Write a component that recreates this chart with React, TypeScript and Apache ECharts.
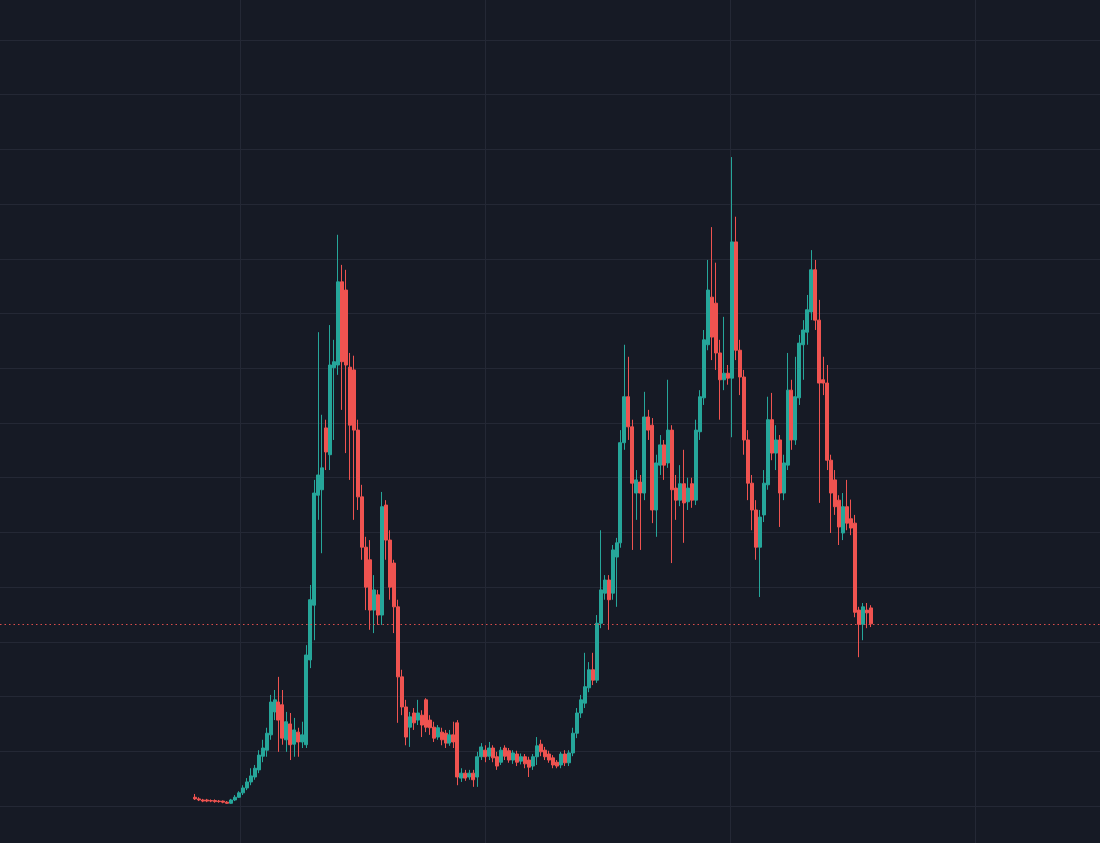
import React, { useEffect, useRef } from "react";
import * as echarts from "echarts";

// candle = [open, close, low, high]
type Candle = [number, number, number, number];

const BASE_RUN: Candle[] = [
  [1.6, 1.3, 1.1, 2.2], [1.3, 1.1, 0.9, 1.6], [1.1, 0.9, 0.7, 1.3], [1.1, 0.9, 0.7, 1.3],
  [1.0, 0.9, 0.7, 1.2], [1.0, 0.8, 0.6, 1.2], [0.9, 0.8, 0.6, 1.1], [0.9, 0.7, 0.5, 1.0],
  [0.7, 0.5, 0.4, 0.9], [0.5, 1.1, 0.4, 1.3], [1.1, 1.6, 0.9, 2.0], [1.6, 2.4, 1.5, 2.7],
  [2.4, 3.3, 2.0, 3.8], [3.3, 4.4, 2.9, 5.1], [4.4, 5.5, 3.8, 6.9], [5.3, 6.9, 4.8, 7.5],
  [6.6, 9.3, 6.0, 10.2], [9.1, 10.6, 8.0, 12.1], [10.2, 13.3, 9.0, 14.3], [13.0, 19.0, 12.1, 20.3],
  [17.2, 19.4, 15.7, 21.2], [19.0, 15.7, 9.9, 23.6], [18.5, 12.4, 11.2, 21.2], [12.1, 15.4, 9.9, 17.2],
  [15.0, 11.2, 8.4, 17.0], [11.3, 13.9, 9.0, 16.1], [13.5, 11.7, 9.0, 14.3], [11.7, 13.0, 10.6, 15.4],
];

const FIRST_RALLY: Candle[] = [
  [11.2, 27.6, 10.6, 29.4], [26.7, 37.7, 25.2, 40.4], [36.7, 57.2, 30.3, 59.6], [56.8, 60.5, 52.3, 86.6],
  [57.8, 61.8, 46.2, 71.5], [69.1, 64.7, 61.4, 70.6], [64.2, 80.6, 61.4, 87.9], [80.1, 81.2, 66.9, 85.2],
  [80.6, 95.8, 78.8, 104.4],
];

const FIRST_FALL: Candle[] = [
  [95.8, 81.2, 72.4, 98.9], [94.3, 80.6, 64.5, 98.0], [80.2, 69.6, 59.6, 82.8], [79.7, 68.7, 52.3, 82.3],
  [68.7, 56.5, 54.1, 70.6], [56.5, 47.3, 45.0, 58.7], [47.3, 40.0, 35.8, 49.2], [45.0, 35.8, 32.2, 48.6],
  [35.8, 39.5, 31.6, 42.2], [38.6, 34.9, 33.1, 39.5], [34.9, 54.7, 33.1, 57.4], [55.0, 48.6, 45.0, 55.9],
  [48.6, 40.0, 37.7, 50.4], [44.4, 36.4, 31.6, 45.0], [36.4, 23.6, 15.2, 37.7], [23.6, 18.1, 16.6, 24.9],
  [18.1, 12.6, 11.1, 19.4], [14.4, 16.3, 10.8, 17.2], [17.0, 15.2, 13.9, 17.9], [15.7, 17.0, 14.8, 19.4],
  [16.6, 14.8, 12.6, 17.5], [19.4, 14.4, 13.5, 19.7], [15.7, 14.3, 13.0, 16.6], [14.4, 12.4, 11.7, 15.4],
  [12.6, 14.3, 12.1, 14.8], [13.5, 12.1, 11.1, 14.3], [13.3, 11.5, 10.6, 13.9], [11.5, 13.0, 11.0, 13.9],
  [13.0, 11.7, 10.6, 15.4], [15.2, 5.3, 3.8, 15.7],
];

const ACCUMULATION: Candle[] = [
  [5.1, 6.0, 4.4, 6.9], [6.0, 5.1, 4.6, 6.6], [5.3, 6.0, 4.8, 6.6], [6.0, 4.8, 3.5, 6.6],
  [5.3, 9.0, 3.5, 9.9], [9.0, 10.8, 8.4, 11.5], [10.2, 9.0, 8.0, 11.1], [9.1, 10.6, 8.4, 11.7],
  [10.6, 8.8, 8.0, 11.1], [9.0, 7.3, 6.6, 9.9], [8.0, 10.2, 7.5, 10.8], [10.6, 9.1, 8.4, 11.1],
  [10.1, 8.4, 7.9, 10.6], [8.4, 9.7, 7.7, 10.2], [9.5, 8.0, 7.3, 10.1], [8.2, 9.0, 7.6, 9.6],
  [9.0, 7.7, 6.9, 9.5], [8.4, 7.1, 5.3, 9.0], [7.3, 9.0, 6.6, 9.5], [9.0, 11.0, 7.5, 12.6],
  [11.3, 9.9, 9.1, 12.1], [10.2, 9.0, 8.4, 10.8], [9.5, 8.4, 7.9, 10.1], [8.8, 7.5, 6.9, 9.3],
  [8.0, 7.3, 6.9, 8.4], [7.5, 9.5, 6.9, 9.9], [9.5, 7.9, 7.3, 10.2], [7.9, 9.7, 7.3, 10.2],
];

const SECOND_RALLY: Candle[] = [
  [9.7, 13.3, 9.1, 14.3], [13.3, 17.0, 12.4, 17.9], [17.0, 19.4, 16.1, 20.3], [18.8, 21.8, 17.9, 28.0],
  [21.6, 24.9, 20.8, 26.3], [24.9, 23.0, 22.1, 28.0], [23.0, 33.4, 22.5, 34.9], [33.4, 39.5, 32.5, 50.4],
  [38.9, 41.3, 37.7, 42.2], [41.3, 37.7, 32.2, 42.2], [38.9, 46.8, 37.7, 47.7], [45.5, 48.1, 36.4, 49.0],
  [48.1, 66.4, 47.2, 68.7], [66.4, 74.8, 65.1, 84.3],
];

const TOP_RANGE: Candle[] = [
  [74.8, 69.3, 66.9, 82.1], [69.3, 59.0, 46.8, 70.6], [57.2, 59.6, 52.3, 61.4], [59.2, 57.2, 46.8, 60.5],
  [57.2, 71.1, 55.9, 75.7], [71.1, 68.7, 66.9, 72.4], [69.6, 54.1, 51.7, 70.9], [54.1, 62.7, 49.2, 64.2],
  [62.3, 66.0, 60.5, 67.8], [66.0, 62.3, 59.6, 66.9], [62.7, 68.7, 61.8, 77.9], [68.7, 57.8, 44.4, 69.6],
  [58.1, 55.9, 52.3, 60.5], [55.9, 58.9, 54.8, 62.3], [58.9, 55.4, 48.1, 65.1], [55.6, 58.1, 54.1, 60.0],
  [58.9, 55.9, 54.5, 60.0], [55.9, 68.7, 55.0, 70.6], [68.4, 74.8, 66.9, 76.0], [74.6, 85.2, 73.3, 87.0],
  [84.3, 94.3, 83.3, 99.8], [93.0, 85.7, 81.5, 105.8], [91.9, 82.8, 79.7, 99.3], [82.8, 77.9, 70.6, 85.2],
  [77.9, 79.1, 76.0, 89.4], [79.1, 78.2, 77.0, 80.6], [78.2, 103.1, 67.4, 118.6], [103.1, 83.3, 81.5, 107.7],
  [83.3, 78.4, 75.1, 85.2], [78.4, 66.9, 64.2, 79.7], [66.9, 59.0, 55.9, 68.7], [59.0, 54.1, 50.4, 60.5],
  [54.1, 47.3, 45.0, 55.9], [47.3, 52.8, 38.2, 54.1], [53.2, 59.0, 51.9, 61.4], [58.7, 70.6, 57.8, 74.8],
  [70.6, 64.5, 63.2, 75.5], [64.5, 66.9, 61.4, 69.6], [66.9, 57.2, 51.0, 67.8], [57.2, 62.7, 55.9, 64.2],
  [62.3, 76.0, 61.4, 82.8], [76.0, 66.9, 65.1, 77.9], [66.9, 74.8, 66.0, 82.1], [74.6, 84.6, 73.3, 86.1],
  [84.3, 87.0, 77.9, 88.8], [86.6, 90.7, 84.3, 93.4], [90.3, 98.0, 88.8, 101.6],
];

const FINAL_DROP: Candle[] = [
  [98.0, 88.8, 87.0, 99.8], [88.8, 77.3, 55.4, 92.5], [77.9, 77.3, 75.1, 82.1], [77.3, 63.2, 61.4, 80.6],
  [63.2, 57.2, 49.9, 64.2], [59.6, 54.7, 53.2, 61.4], [55.9, 51.0, 47.7, 56.8], [49.9, 54.7, 48.6, 57.2],
  [54.7, 51.7, 50.4, 59.6], [52.5, 50.8, 49.5, 56.0], [51.7, 35.4, 34.5, 53.2], [35.8, 33.2, 27.2, 36.4],
  [33.2, 36.4, 30.3, 37.1], [35.8, 35.3, 32.5, 37.1], [36.2, 33.3, 32.7, 36.7],
];

const CANDLES: Candle[] = [
  ...BASE_RUN,
  ...FIRST_RALLY,
  ...FIRST_FALL,
  ...ACCUMULATION,
  ...SECOND_RALLY,
  ...TOP_RANGE,
  ...FINAL_DROP,
];

const BAR_LABELS = CANDLES.map((_, i) => `#${i + 1}`);
const LAST_PRICE = 33.3;

const PRICE_MIN = 0;
const PRICE_MAX = 140;
const PRICE_STEP = 10;

const BG = "#161a25";
const GRID = "#242835";
const UP = "#26a69a";
const DOWN = "#ef5350";

export default function App() {
  const chartRef = useRef<HTMLDivElement | null>(null);

  useEffect(() => {
    if (!chartRef.current) return;
    const chart = echarts.init(chartRef.current, null, { renderer: "svg" });

    const hidden = {
      axisLabel: { show: false },
      axisLine: { show: false },
      axisTick: { show: false },
    };
    const gridLine = { show: true, lineStyle: { color: GRID, width: 1 } };

    const option: any = {
      animation: false,
      backgroundColor: BG,
      grid: [
        // horizontal price lines, full width
        { left: 0, right: 0, top: 40, bottom: 37 },
        // vertical time lines, full height
        { left: 240, right: 125, top: 0, bottom: 0 },
        // candles
        { left: 193, right: 227, top: 40, bottom: 37 },
      ],
      xAxis: [
        { type: "value", gridIndex: 0, min: 0, max: 1, ...hidden, splitLine: { show: false } },
        { type: "value", gridIndex: 1, min: 0, max: 3, interval: 1, ...hidden, splitLine: gridLine },
        {
          type: "category",
          gridIndex: 2,
          data: BAR_LABELS,
          boundaryGap: true,
          ...hidden,
          splitLine: { show: false },
        },
      ],
      yAxis: [
        {
          type: "value",
          gridIndex: 0,
          min: PRICE_MIN,
          max: PRICE_MAX,
          interval: PRICE_STEP,
          ...hidden,
          splitLine: gridLine,
        },
        { type: "value", gridIndex: 1, min: 0, max: 1, ...hidden, splitLine: { show: false } },
        {
          type: "value",
          gridIndex: 2,
          min: PRICE_MIN,
          max: PRICE_MAX,
          interval: PRICE_STEP,
          ...hidden,
          splitLine: { show: false },
        },
      ],
      series: [
        {
          type: "line",
          xAxisIndex: 0,
          yAxisIndex: 0,
          data: [],
          silent: true,
          markLine: {
            silent: true,
            symbol: "none",
            label: { show: false },
            lineStyle: { color: DOWN, type: [1.5, 3], width: 1, opacity: 0.9 },
            data: [{ yAxis: LAST_PRICE }],
          },
        },
        {
          type: "candlestick",
          xAxisIndex: 2,
          yAxisIndex: 2,
          data: CANDLES,
          barWidth: "88%",
          itemStyle: {
            color: UP,
            color0: DOWN,
            borderColor: UP,
            borderColor0: DOWN,
            borderWidth: 1,
          },
        },
      ],
    };

    chart.setOption(option);
    return () => chart.dispose();
  }, []);

  return (
    <div
      ref={chartRef}
      style={{ position: "fixed", left: 0, top: 0, width: 1100, height: 843, background: BG }}
    />
  );
}
